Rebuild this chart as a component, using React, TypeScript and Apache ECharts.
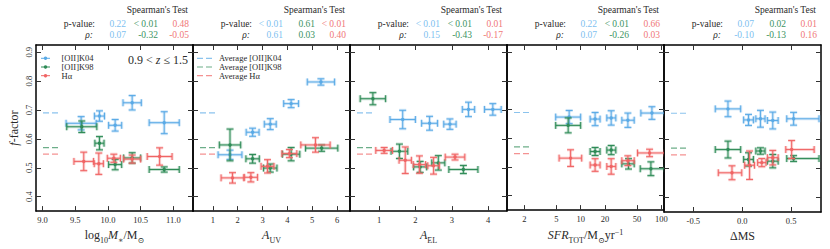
import React, { useEffect, useRef } from "react";
import * as echarts from "echarts";

const W = 830;
const H = 249;
const FONT = "'Liberation Serif', 'DejaVu Serif', serif";
const INK = "#2a2a2a";

const seriesNames = ["[OII]K04", "[OII]K98", "Hα"];
const colors = ["#5aaae6", "#2e8b57", "#f06464"];
const textColors = ["#80bff0", "#3d9463", "#f07878"];
const averages = [0.69, 0.57, 0.547];

// each point: [x, y, xMinus, xPlus, yErr]
const massK04 = [[9.59, 0.654, 0.23, 0.23, 0.023], [9.87, 0.679, 0.077, 0.077, 0.018], [10.11, 0.647, 0.1, 0.1, 0.02], [10.37, 0.725, 0.14, 0.14, 0.025], [10.86, 0.656, 0.23, 0.23, 0.038]];
const massK98 = [[9.6, 0.642, 0.23, 0.23, 0.02], [9.87, 0.585, 0.07, 0.07, 0.023], [10.11, 0.511, 0.1, 0.1, 0.018], [10.37, 0.534, 0.13, 0.13, 0.018], [10.86, 0.494, 0.23, 0.23, 0.009]];
const massHa = [[9.63, 0.522, 0.15, 0.15, 0.032], [9.86, 0.514, 0.07, 0.07, 0.037], [10.09, 0.533, 0.1, 0.1, 0.014], [10.37, 0.53, 0.13, 0.13, 0.014], [10.79, 0.539, 0.19, 0.19, 0.03]];

const auvK04 = [[5.35, 0.797, 0.55, 0.55, 0.011], [4.15, 0.722, 0.3, 0.3, 0.014], [3.31, 0.651, 0.24, 0.24, 0.019], [2.6, 0.623, 0.26, 0.26, 0.014], [1.69, 0.545, 0.48, 0.48, 0.016]];
const auvK98 = [[1.69, 0.579, 0.43, 0.43, 0.055], [2.6, 0.531, 0.27, 0.27, 0.015], [3.31, 0.499, 0.27, 0.27, 0.014], [4.15, 0.547, 0.35, 0.35, 0.023], [5.38, 0.568, 0.65, 0.65, 0.011]];
const auvHa = [[1.79, 0.465, 0.46, 0.46, 0.018], [2.53, 0.467, 0.27, 0.27, 0.016], [3.2, 0.505, 0.26, 0.26, 0.023], [4.08, 0.549, 0.3, 0.3, 0.014], [5.13, 0.579, 0.59, 0.59, 0.025]];

const aelK04 = [[1.65, 0.667, 0.35, 0.35, 0.032], [2.39, 0.654, 0.22, 0.22, 0.024], [2.95, 0.651, 0.17, 0.17, 0.018], [3.46, 0.702, 0.17, 0.17, 0.025], [4.13, 0.702, 0.23, 0.23, 0.02]];
const aelK98 = [[0.83, 0.739, 0.35, 0.35, 0.021], [1.56, 0.557, 0.23, 0.23, 0.025], [2.13, 0.503, 0.18, 0.18, 0.019], [2.63, 0.517, 0.18, 0.18, 0.025], [3.32, 0.494, 0.4, 0.4, 0.014]];
const aelHa = [[1.14, 0.56, 0.23, 0.23, 0.01], [1.72, 0.526, 0.17, 0.17, 0.046], [2.11, 0.511, 0.17, 0.17, 0.03], [2.5, 0.507, 0.16, 0.16, 0.029], [3.09, 0.537, 0.27, 0.27, 0.01]];

const sfrK04 = [[7.2, 0.674, 2.3, 2.8, 0.023], [15.1, 0.667, 2.0, 2.3, 0.023], [23.9, 0.671, 2.8, 3.4, 0.025], [38.5, 0.663, 6.1, 7.6, 0.025], [76.5, 0.688, 20.7, 33.5, 0.022]];
const sfrK98 = [[7.0, 0.645, 2.1, 3.0, 0.026], [15.1, 0.554, 2.0, 2.3, 0.014], [23.9, 0.559, 2.8, 3.4, 0.016], [39.2, 0.511, 6.8, 6.9, 0.018], [74.3, 0.494, 19.5, 35.7, 0.024]];
const sfrHa = [[7.5, 0.531, 2.1, 2.8, 0.029], [15.1, 0.507, 2.0, 2.3, 0.022], [23.9, 0.502, 2.8, 3.4, 0.027], [38.5, 0.522, 6.1, 7.6, 0.017], [71.6, 0.549, 20.9, 38.4, 0.013]];

const dmsK04 = [[-0.146, 0.705, 0.13, 0.13, 0.027], [0.064, 0.667, 0.05, 0.05, 0.019], [0.186, 0.671, 0.047, 0.047, 0.029], [0.312, 0.665, 0.055, 0.055, 0.029], [0.525, 0.671, 0.07, 0.26, 0.022]];
const dmsK98 = [[-0.146, 0.565, 0.13, 0.13, 0.029], [0.064, 0.531, 0.05, 0.05, 0.023], [0.186, 0.56, 0.047, 0.047, 0.011], [0.312, 0.525, 0.055, 0.055, 0.023], [0.525, 0.534, 0.07, 0.26, 0.01]];
const dmsHa = [[-0.105, 0.485, 0.14, 0.1, 0.024], [0.075, 0.511, 0.05, 0.05, 0.049], [0.2, 0.52, 0.043, 0.043, 0.014], [0.312, 0.537, 0.055, 0.055, 0.025], [0.505, 0.565, 0.06, 0.23, 0.031]];

const massTicks = [9.0, 9.5, 10.0, 10.5, 11.0];
const auvTicks = [1, 2, 3, 4, 5, 6];
const aelTicks = [1, 2, 3, 4];
const sfrTicks = [2, 5, 10, 20, 50, 100];
const dmsTicks = [-0.5, 0.0, 0.5];
const yTicks = [0.4, 0.5, 0.6, 0.7, 0.8, 0.9];

const spearmanP = [
  ["0.22", "< 0.01", "0.48"],
  ["< 0.01", "0.61", "< 0.01"],
  ["< 0.01", "< 0.01", "0.01"],
  ["0.22", "< 0.01", "0.66"],
  ["0.07", "0.02", "0.01"],
];
const spearmanRho = [
  ["0.07", "-0.32", "-0.05"],
  ["0.61", "0.03", "0.40"],
  ["0.15", "-0.43", "-0.17"],
  ["0.07", "-0.26", "0.03"],
  ["-0.10", "-0.13", "0.16"],
];

const xNames = [
  "{n|log}{s|10}{i|M}{s|∗}{n|/M}{s|⊙}",
  "{i|A}{s|UV}",
  "{i|A}{s|EL}",
  "{i|SFR}{s|TOT}{n|/M}{s|⊙}{n|yr}{sup|−1}",
  "{n|ΔMS}",
];

const panels = [
  { sets: [massK04, massK98, massHa], min: 8.9, max: 11.3, ticks: massTicks, log: false, fmt: (v: number) => v.toFixed(1) },
  { sets: [auvK04, auvK98, auvHa], min: 0.2, max: 6.52, ticks: auvTicks, log: false, fmt: (v: number) => String(Math.round(v)) },
  { sets: [aelK04, aelK98, aelHa], min: 0.2, max: 4.52, ticks: aelTicks, log: false, fmt: (v: number) => String(Math.round(v)) },
  { sets: [sfrK04, sfrK98, sfrHa], min: 1.22, max: 108, ticks: sfrTicks, log: true, fmt: (v: number) => String(Math.round(Math.pow(10, v))) },
  { sets: [dmsK04, dmsK98, dmsHa], min: -0.8, max: 0.805, ticks: dmsTicks, log: false, fmt: (v: number) => v.toFixed(1) },
];

const GL = 36;
const GW = 157;
const GT = 45;
const GH = 167;

const richName = {
  n: { fontFamily: FONT, fontSize: 12, color: INK, lineHeight: 14, verticalAlign: "top" },
  i: { fontFamily: FONT, fontSize: 12, fontStyle: "italic", color: INK, lineHeight: 14, verticalAlign: "top" },
  s: { fontFamily: FONT, fontSize: 8, color: INK, lineHeight: 10, padding: [7, 0, 0, 0], verticalAlign: "top" },
  sup: { fontFamily: FONT, fontSize: 8, color: INK, lineHeight: 10, padding: [-1, 0, 0, 0], verticalAlign: "top" },
};

function errRender(color: string) {
  return (params: any, api: any) => {
    const x = api.value(0), y = api.value(1), xl = api.value(2), xh = api.value(3), yl = api.value(4), yh = api.value(5);
    const c = api.coord([x, y]);
    const L = api.coord([xl, y]);
    const R = api.coord([xh, y]);
    const B = api.coord([x, yl]);
    const T = api.coord([x, yh]);
    const cap = 3.5;
    const segs = [
      [L[0], c[1], R[0], c[1]],
      [c[0], B[1], c[0], T[1]],
      [L[0], c[1] - cap, L[0], c[1] + cap],
      [R[0], c[1] - cap, R[0], c[1] + cap],
      [c[0] - cap, B[1], c[0] + cap, B[1]],
      [c[0] - cap, T[1], c[0] + cap, T[1]],
    ];
    const children: any[] = [];
    segs.forEach((s) =>
      children.push({ type: "line", shape: { x1: s[0], y1: s[1], x2: s[2], y2: s[3] }, style: { stroke: color, lineWidth: 3, opacity: 0.28 } })
    );
    segs.forEach((s) =>
      children.push({ type: "line", shape: { x1: s[0], y1: s[1], x2: s[2], y2: s[3] }, style: { stroke: color, lineWidth: 1 } })
    );
    children.push({ type: "circle", shape: { cx: c[0], cy: c[1], r: 1.7 }, style: { fill: color } });
    return { type: "group", children };
  };
}

function avgRender(color: string) {
  return (params: any, api: any) => {
    const p = api.coord([api.value(0), api.value(1)]);
    const sys = params.coordSys;
    return {
      type: "line",
      shape: { x1: sys.x + 7, y1: p[1], x2: sys.x + 22, y2: p[1] },
      style: { stroke: color, lineWidth: 1.2, lineDash: [6, 3], opacity: 0.7 },
    };
  };
}

function buildOption() {
  const grid: any[] = [];
  const xAxis: any[] = [];
  const yAxis: any[] = [];
  const series: any[] = [];
  const graphic: any[] = [];

  panels.forEach((pn, i) => {
    grid.push({ left: GL + GW * i, top: GT, width: GW, height: GH });
    const tr = (v: number) => (pn.log ? Math.log10(v) : v);
    const tickVals = pn.ticks.map(tr);
    const common = {
      type: "value",
      gridIndex: i,
      min: tr(pn.min),
      max: tr(pn.max),
      axisLine: { show: true, onZero: false, lineStyle: { color: "#000", width: 1.5 } },
      axisTick: { show: true, inside: true, length: 5, customValues: tickVals, lineStyle: { color: "#333", width: 1 } },
      splitLine: { show: false },
    };
    xAxis.push({
      ...common,
      position: "bottom",
      axisLabel: { show: true, customValues: tickVals, formatter: pn.fmt, fontFamily: FONT, fontSize: 8.5, color: INK, margin: 4 },
      name: xNames[i],
      nameLocation: "middle",
      nameGap: 14,
      nameTextStyle: { rich: richName },
    });
    xAxis.push({ ...common, position: "top", axisLabel: { show: false } });
    const ycommon = {
      type: "value",
      gridIndex: i,
      min: 0.35,
      max: 0.925,
      axisLine: { show: true, onZero: false, lineStyle: { color: "#000", width: 1.5 } },
      axisTick: { show: true, inside: true, length: 5, customValues: yTicks, lineStyle: { color: "#333", width: 1 } },
      splitLine: { show: false },
    };
    yAxis.push({
      ...ycommon,
      position: "left",
      axisLabel: {
        show: i === 0,
        customValues: yTicks,
        rotate: 90,
        formatter: (v: number) => v.toFixed(1),
        fontFamily: FONT,
        fontSize: 8.5,
        color: INK,
        margin: 3,
      },
      name: i === 0 ? "{i|f}{n|-factor}" : "",
      nameLocation: "middle",
      nameRotate: 90,
      nameGap: 14,
      nameTextStyle: { rich: richName },
    });
    yAxis.push({ ...ycommon, position: "right", axisLabel: { show: false } });

    averages.forEach((a, k) => {
      series.push({
        type: "custom",
        name: "Average " + seriesNames[k],
        xAxisIndex: 2 * i,
        yAxisIndex: 2 * i,
        renderItem: avgRender(colors[k]),
        data: [[tr(pn.min), a]],
        silent: true,
      });
    });
    pn.sets.forEach((set, k) => {
      const data = set.map((d) => [tr(d[0]), d[1], tr(d[0] - d[2]), tr(d[0] + d[3]), d[1] - d[4], d[1] + d[4]]);
      series.push({
        type: "custom",
        name: seriesNames[k],
        xAxisIndex: 2 * i,
        yAxisIndex: 2 * i,
        renderItem: errRender(colors[k]),
        encode: { x: 0, y: 1 },
        data,
        clip: true,
        silent: true,
      });
    });

    const r = GL + GW * (i + 1);
    graphic.push({ type: "text", x: r - 5, y: 10, style: { text: "Spearman's Test", fontFamily: FONT, fontSize: 9.5, fill: INK, align: "right", verticalAlign: "middle" } });
    graphic.push({ type: "text", x: r - 98, y: 24, style: { text: "p-value:", fontFamily: FONT, fontSize: 9.5, fill: INK, align: "right", verticalAlign: "middle" } });
    graphic.push({ type: "text", x: r - 100, y: 35, style: { text: "ρ:", fontFamily: FONT, fontSize: 9.5, fontStyle: "italic", fill: INK, align: "right", verticalAlign: "middle" } });
    const cols = [r - 67, r - 35, r - 4];
    cols.forEach((cx, k) => {
      graphic.push({ type: "text", x: cx, y: 24, style: { text: spearmanP[i][k], fontFamily: FONT, fontSize: 9.5, fill: textColors[k], align: "right", verticalAlign: "middle" } });
      graphic.push({ type: "text", x: cx, y: 35, style: { text: spearmanRho[i][k], fontFamily: FONT, fontSize: 9.5, fill: textColors[k], align: "right", verticalAlign: "middle" } });
    });
  });

  const legY = [58.3, 67, 75.7];
  seriesNames.forEach((nm, k) => {
    graphic.push({ type: "line", shape: { x1: 41, y1: legY[k], x2: 50, y2: legY[k] }, style: { stroke: colors[k], lineWidth: 1 } });
    graphic.push({ type: "circle", shape: { cx: 45.5, cy: legY[k], r: 1.7 }, style: { fill: colors[k] } });
    graphic.push({ type: "text", x: 61.5, y: legY[k], style: { text: nm, fontFamily: FONT, fontSize: 8.5, fill: INK, verticalAlign: "middle" } });
    graphic.push({ type: "line", shape: { x1: 197, y1: legY[k], x2: 212, y2: legY[k] }, style: { stroke: colors[k], lineWidth: 1.2, lineDash: [6, 3], opacity: 0.7 } });
    graphic.push({ type: "text", x: 219, y: legY[k], style: { text: "Average " + nm, fontFamily: FONT, fontSize: 8.5, fill: INK, verticalAlign: "middle" } });
  });
  graphic.push({
    type: "text",
    x: 188,
    y: 60,
    style: {
      text: "{n|0.9 < }{i|z}{n| ≤ 1.5}",
      align: "right",
      verticalAlign: "middle",
      rich: {
        n: { fontFamily: FONT, fontSize: 12, fill: INK },
        i: { fontFamily: FONT, fontSize: 12, fontStyle: "italic", fill: INK },
      },
    },
  });

  return { animation: false, backgroundColor: "#fff", grid, xAxis, yAxis, series, graphic };
}

export default function App() {
  const ref = useRef<HTMLDivElement>(null);
  useEffect(() => {
    if (!ref.current) return;
    const chart = echarts.init(ref.current, undefined, { renderer: "svg" });
    chart.setOption(buildOption() as any);
    return () => chart.dispose();
  }, []);
  return <div ref={ref} style={{ position: "fixed", left: 0, top: 0, width: W, height: H }} />;
}
